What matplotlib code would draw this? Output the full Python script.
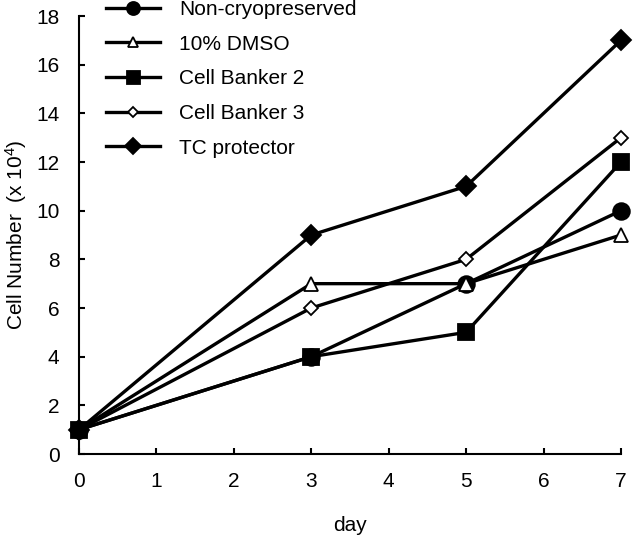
import matplotlib.pyplot as plt

days = [0, 3, 5, 7]
non_cryo = [1, 4, 7, 10]
dmso = [1, 7, 7, 9]
cb2 = [1, 4, 5, 12]
cb3 = [1, 6, 8, 13]
tc = [1, 9, 11, 17]

labels = ['Non-cryopreserved', '10% DMSO', 'Cell Banker 2', 'Cell Banker 3', 'TC protector']
series = [non_cryo, dmso, cb2, cb3, tc]
markers = ['o', '^', 's', 'D', 'D']
sizes = [12, 10, 12, 7, 10]
faces = ['black', 'white', 'black', 'white', 'black']

plt.rcParams['font.family'] = ['Liberation Sans', 'DejaVu Sans']
plt.rcParams['mathtext.fontset'] = 'custom'
plt.rcParams['mathtext.rm'] = 'Liberation Sans'

fig = plt.figure(figsize=(6.33, 5.47), dpi=100)
ax = fig.add_axes([79 / 633, 93 / 547, 542 / 633, 438 / 547])

for vals, lab, m, s, fc in zip(series, labels, markers, sizes, faces):
    ax.plot(days, vals, color='black', lw=2.4, marker=m, ms=s, mfc=fc,
            mec='black', mew=1.3, label=lab, clip_on=False)

ax.set_xlim(0, 7)
ax.set_ylim(0, 18)
ax.set_xticks(range(0, 8))
ax.set_yticks(range(0, 19, 2))
for sp in ['top', 'right']:
    ax.spines[sp].set_visible(False)
for sp in ['left', 'bottom']:
    ax.spines[sp].set_linewidth(1.5)
ax.tick_params(direction='in', length=4.5, width=1.5, labelsize=15)
ax.tick_params(axis='x', pad=13)
ax.tick_params(axis='y', pad=14)
ax.set_xlabel('day', fontsize=15, labelpad=18)
ax.set_ylabel('Cell Number  (x 10$\\mathrm{^4}$)', fontsize=15, labelpad=5)

ax.legend(loc='upper left', bbox_to_anchor=(106 / 633, 1.0),
          bbox_transform=fig.transFigure, frameon=False, borderpad=0,
          borderaxespad=0, fontsize=15, handlelength=2.6, labelspacing=0.75,
          handletextpad=0.9, markerscale=0.78)

plt.savefig('out.png')
